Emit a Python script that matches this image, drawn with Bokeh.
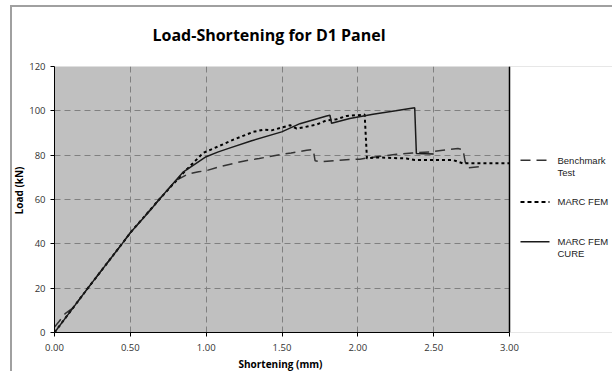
from bokeh.plotting import figure
from bokeh.models import FixedTicker, NumeralTickFormatter, Range1d, Title
from bokeh.core.properties import value
from bokeh.embed import file_html
from bokeh.resources import INLINE

# ---------------- data ----------------
bench_x = [0.0, 0.03, 0.07, 0.12, 0.22, 0.445, 0.5, 0.69, 0.80, 0.88, 0.95, 1.0, 1.1, 1.245,
           1.35, 1.465, 1.56, 1.663, 1.706, 1.718, 1.761, 1.85, 1.947, 2.013, 2.068, 2.15,
           2.255, 2.36, 2.474, 2.56, 2.66, 2.693, 2.708, 2.726, 2.80]
bench_y = [2.5, 5.0, 8.5, 11.0, 20.0, 40.0, 45.0, 60.0, 68.5, 71.5, 72.5, 73.0, 75.0, 77.3,
           78.5, 80.0, 81.0, 82.2, 82.5, 77.5, 77.0, 77.6, 78.0, 78.2, 78.8, 79.5,
           80.4, 81.0, 81.5, 82.2, 83.0, 82.5, 77.0, 74.3, 74.8]

fem_x = [0.0, 0.22, 0.445, 0.5, 0.69, 0.862, 0.98, 1.048, 1.18, 1.31, 1.377, 1.432, 1.553,
         1.597, 1.651, 1.728, 1.794, 1.86, 1.926, 1.991, 2.045, 2.06, 2.12, 2.32, 2.375,
         2.627, 2.693, 2.967, 3.0]
fem_y = [0.0, 20.0, 40.0, 45.0, 60.0, 72.9, 81.0, 83.0, 87.0, 90.5, 91.5, 91.2, 93.5,
         92.0, 92.7, 93.8, 95.7, 96.2, 97.7, 98.0, 98.3, 78.5, 79.0, 78.5, 77.8,
         77.8, 76.3, 76.3, 76.3]

cure_x = [0.0, 0.22, 0.445, 0.5, 0.633, 0.69, 0.85, 1.0, 1.08, 1.158, 1.3, 1.498, 1.618,
          1.794, 1.816, 1.827, 1.947, 2.1, 2.25, 2.375, 2.386, 2.50]
cure_y = [0.0, 20.0, 40.0, 45.0, 55.3, 60.0, 72.5, 79.3, 81.5, 83.3, 86.5, 90.5, 94.2,
          97.7, 98.0, 94.4, 96.5, 98.5, 100.0, 101.4, 80.8, 80.5]

x_ticks = [0.0, 0.5, 1.0, 1.5, 2.0, 2.5, 3.0]
y_ticks = [0, 20, 40, 60, 80, 100, 120]

title_text = "Load-Shortening for D1 Panel"
x_label = "Shortening (mm)"
y_label = "Load (kN)"
series_names = [["Benchmark", "Test"], ["MARC FEM"], ["MARC FEM", "CURE"]]

# ---------------- layout ----------------
W, H = 612, 371
FL, FT, FB = 54, 66, 333          # frame edges (px); frame runs to the right canvas edge
PLOT_R = 509                      # right edge of the grey plot area (px)
XMIN, XMAX, YMIN, YMAX = 0.0, 3.0, 0.0, 120.0
PPX = (PLOT_R - FL) / (XMAX - XMIN)
PPY = (FB - FT) / (YMAX - YMIN)
X_END = XMIN + (W - FL) / PPX


def dx(px):
    return XMIN + (px - FL) / PPX


def dy(py):
    return YMIN + (FB - py) / PPY


p = figure(width=W, height=H, x_range=Range1d(XMIN, X_END), y_range=Range1d(YMIN, YMAX),
           output_backend="svg", toolbar_location=None,
           min_border_left=FL, min_border_right=0, min_border_top=FT,
           min_border_bottom=H - FB)
p.background_fill_color = "#c0c0c0"
p.border_fill_color = None
p.outline_line_color = None
p.styles = {"background": "linear-gradient(#a0a0a0, #a0a0a0) 10px 5px / 2px 420px no-repeat, "
                          "linear-gradient(#a0a0a0, #a0a0a0) 10px 5px / 700px 2px no-repeat, #ffffff"}

# title
p.title.text = title_text
p.title.align = "left"
p.title.offset = 98
p.title.vertical_align = "middle"
p.title.text_font = "Open Sans"
p.title.text_font_style = "bold"
p.title.text_font_size = "16px"
p.title.text_color = "black"
p.title.standoff = 40

tick_font = "Open Sans"
for ax in (p.xaxis[0], p.yaxis[0]):
    ax.axis_line_color = "black"
    ax.axis_line_width = 1
    ax.major_tick_line_color = "black"
    ax.major_tick_out = 4
    ax.major_tick_in = 0
    ax.minor_tick_out = 0
    ax.minor_tick_in = 0
    ax.major_label_text_font = tick_font
    ax.major_label_text_font_size = "9.5px"
    ax.major_label_text_color = "#333333"

p.xaxis.ticker = FixedTicker(ticks=x_ticks)
p.xaxis.formatter = NumeralTickFormatter(format="0.00")
p.xaxis.major_label_standoff = 7
p.xaxis.bounds = (XMIN, XMAX)
p.yaxis.ticker = FixedTicker(ticks=y_ticks)
p.yaxis.major_label_standoff = 5
p.yaxis.bounds = (YMIN, YMAX)

# axis titles as side titles (precise placement)
p.add_layout(Title(text=y_label, align="right", offset=100, text_font="Open Sans",
                   text_font_style="bold", text_font_size="10px", text_color="black",
                   standoff=2), "left")
p.add_layout(Title(text=x_label, align="left", offset=184, text_font="Open Sans",
                   text_font_style="bold", text_font_size="10px", text_color="black",
                   standoff=2), "below")

p.xgrid.ticker = FixedTicker(ticks=x_ticks)
p.ygrid.ticker = FixedTicker(ticks=y_ticks)
for g in (p.xgrid[0], p.ygrid[0]):
    g.grid_line_color = "#808080"
    g.grid_line_dash = "6 4"
    g.grid_line_width = 1

# white area right of the plot area (hides grid extension)
p.quad(left=[XMAX], right=[X_END], bottom=[YMIN], top=[YMAX], fill_color="white",
       line_color=None)
# right edge of the plot area
p.line([XMAX, XMAX], [YMIN, YMAX], line_color="black", line_width=1.5)

# series
styles = [dict(line_color="#333333", line_width=1.5, line_dash="10 6"),
          dict(line_color="black", line_width=2, line_dash="3 3"),
          dict(line_color="#1a1a1a", line_width=1.5)]
p.line(bench_x, bench_y, **styles[0])
p.line(fem_x, fem_y, **styles[1])
p.line(cure_x, cure_y, **styles[2])

# legend (drawn in the right-hand part of the frame)
leg_rows = [160, 202, 242]
leg_styles = [styles[0], dict(styles[1], line_dash="4 3"), styles[2]]
tx, ty, tt = [], [], []
for names, st, row in zip(series_names, leg_styles, leg_rows):
    p.line([dx(520), dx(549)], [dy(row), dy(row)], **st)
    for k, nm in enumerate(names):
        tx.append(dx(557))
        ty.append(dy(row + 12 * k))
        tt.append(nm)
p.text(x=tx, y=ty, text=tt, text_align="left", text_baseline="middle",
       text_font=value("Liberation Sans"), text_font_size="9.5px", text_color="#222222")

open("out.html", "w").write(file_html(p, INLINE))
